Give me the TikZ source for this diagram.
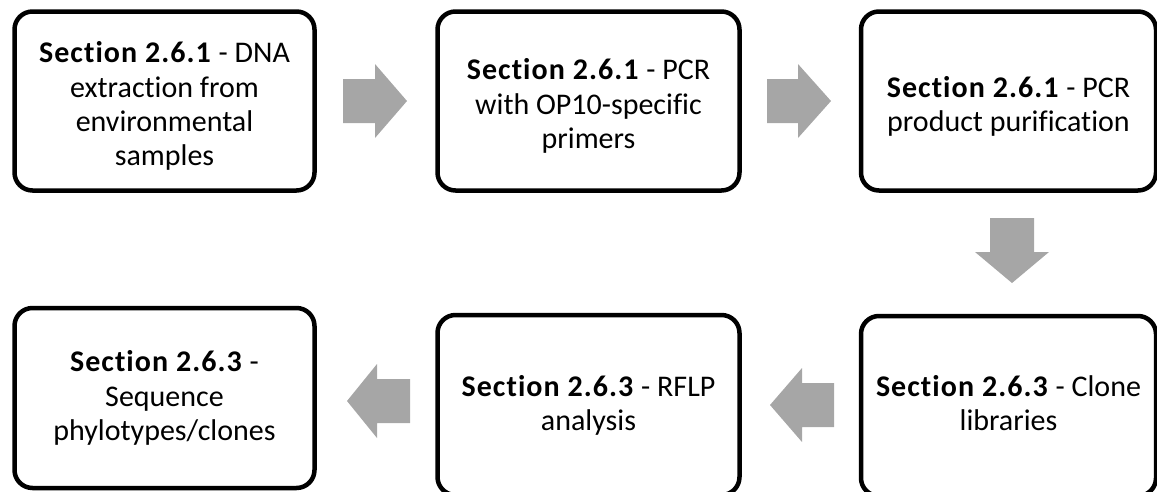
\documentclass[tikz,border=0pt]{standalone}
\usepackage{fontspec}
\setmainfont{Carlito}[Ligatures=NoCommon, BoldFeatures={LetterSpace=3.5}]
\definecolor{arrowgray}{HTML}{A6A6A6}
\begin{document}
\begin{tikzpicture}[x=1pt,y=-1pt,
  stepbox/.style={draw=black, line width=4.5pt, rounded corners=18pt, fill=white, inner sep=0pt},
  steptext/.style={align=center, inner sep=0pt, font=\fontsize{30}{34.2}\selectfont},
  blockarrow/.style={fill=arrowgray, draw=none}]
\useasboundingbox (0,0) rectangle (1157,491);
\clip (0,0) rectangle (1157,491);
% top row
\node[stepbox, minimum width=300pt, minimum height=179pt] (b1) at (164.5,101) {};
\node[stepbox, minimum width=302pt, minimum height=179pt] (b2) at (588.5,101) {};
\node[stepbox, minimum width=295pt, minimum height=179pt] (b3) at (1008.5,101) {};
% bottom row
\node[stepbox, minimum width=300pt, minimum height=180pt] (b4) at (164.5,398) {};
\node[stepbox, minimum width=302pt, minimum height=180pt] (b5) at (588.5,405) {};
\node[stepbox, minimum width=295pt, minimum height=180pt] (b6) at (1008.5,406) {};
% texts
\node[steptext] (t1) at ([yshift=-5pt]b1.center)
  {\textbf{Section 2.6.1} - DNA\\extraction from\\environmental\\samples};
\node[steptext] (t2) at ([yshift=-5pt]b2.center)
  {\textbf{Section 2.6.1} - PCR\\with OP10-specific\\primers};
\node[steptext] (t3) at ([yshift=-5pt]b3.center)
  {\textbf{Section 2.6.1} - PCR\\product purification};
\node[steptext] (t4) at (b4.center)
  {\textbf{Section 2.6.3} -\\Sequence\\phylotypes/clones};
\node[steptext] (t5) at (b5.center)
  {\textbf{Section 2.6.3} - RFLP\\analysis};
\node[steptext] (t6) at ([yshift=3pt]b6.center)
  {\textbf{Section 2.6.3} - Clone\\libraries};
% block arrows
\fill[blockarrow] (343,79) -- (375,79) -- (375,64) -- (407,101) -- (375,138) -- (375,123) -- (343,123) -- cycle;
\fill[blockarrow] (767,79) -- (798,79) -- (798,64) -- (831,101) -- (798,138) -- (798,123) -- (767,123) -- cycle;
\fill[blockarrow] (990,218) -- (1034,218) -- (1034,252) -- (1049,252) -- (1012,283) -- (975,252) -- (990,252) -- cycle;
\fill[blockarrow] (834,383) -- (802,383) -- (802,368) -- (770,405) -- (802,442) -- (802,427) -- (834,427) -- cycle;
\fill[blockarrow] (410,379) -- (377,379) -- (377,364) -- (347,401) -- (377,438) -- (377,423) -- (410,423) -- cycle;
\end{tikzpicture}
\end{document}
